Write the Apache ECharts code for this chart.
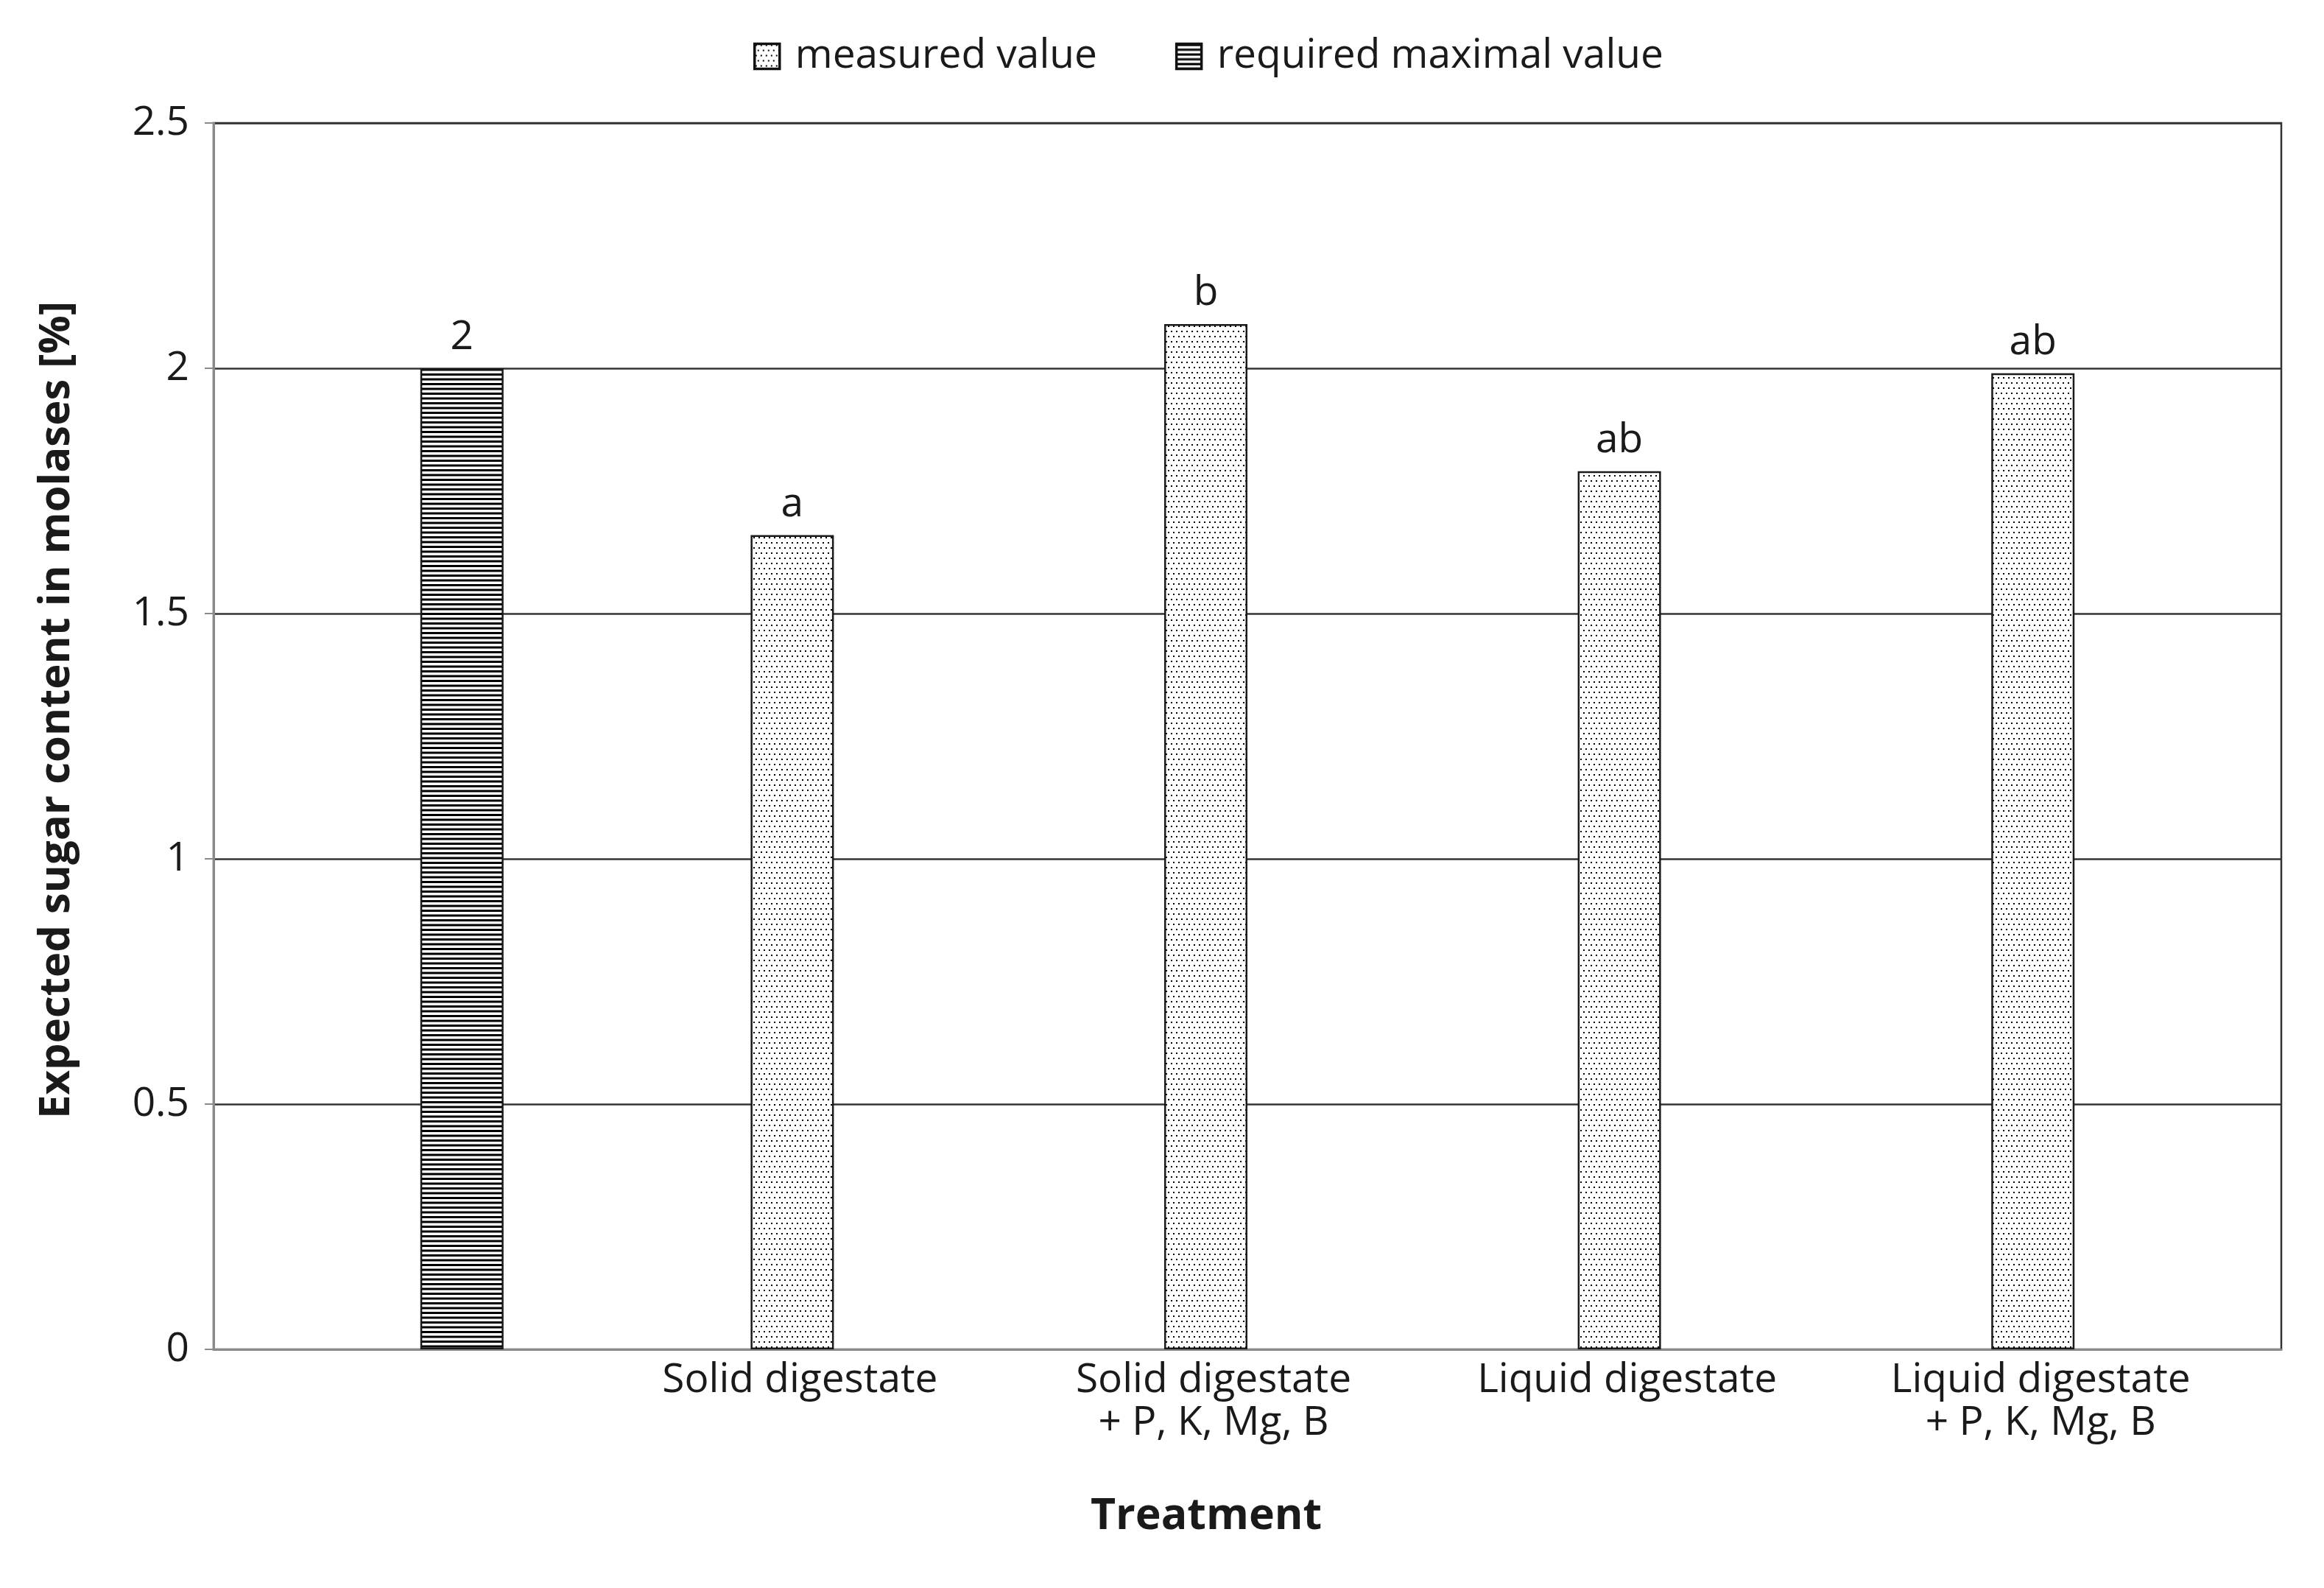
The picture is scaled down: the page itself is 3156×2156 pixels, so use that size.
<!DOCTYPE html>
<html>
<head>
<meta charset="utf-8">
<script src="https://cdn.jsdelivr.net/npm/echarts@6/dist/echarts.min.js"></script>
<style>
html,body{margin:0;padding:0;background:#fff;}
#chart{width:3156px;height:2156px;}
</style>
</head>
<body>
<div id="chart"></div>
<script>
const categories = ['', 'Solid digestate', 'Solid digestate\n+ P, K, Mg, B', 'Liquid digestate', 'Liquid digestate\n+ P, K, Mg, B'];
const measuredValues = [null, 1.66, 2.09, 1.79, 1.99];
const requiredValues = [2, null, null, null, null];
const measuredLetters = ['', 'a', 'b', 'ab', 'ab'];
const seriesNames = ['measured value', 'required maximal value'];
const yAxisTitle = 'Expected sugar content in molases [%]';
const xAxisTitle = 'Treatment';

function dotPattern() {
  const c = document.createElement('canvas');
  c.width = 14; c.height = 14;
  const g = c.getContext('2d');
  g.fillStyle = '#ffffff'; g.fillRect(0, 0, 14, 14);
  g.fillStyle = '#000000';
  [[1,1],[8,1],[4,8],[11,8]].forEach(p => g.fillRect(p[0], p[1], 2, 2));
  return c;
}
function stripePattern() {
  const c = document.createElement('canvas');
  c.width = 8; c.height = 13;
  const g = c.getContext('2d');
  g.fillStyle = '#ffffff'; g.fillRect(0, 0, 8, 13);
  g.fillStyle = '#000000';
  g.fillRect(0, 0, 8, 3);
  g.fillRect(0, 6.5, 8, 3);
  return c;
}

const font = '"Open Sans", "Noto Sans", sans-serif';
const chart = echarts.init(document.getElementById('chart'), null, {renderer: 'canvas'});
chart.setOption({
  backgroundColor: '#ffffff',
  animation: false,
  textStyle: {fontFamily: font, color: '#1a1a1a'},
  legend: {
    top: 44, left: 1018,
    icon: 'rect',
    itemWidth: 34, itemHeight: 34, itemGap: 106,
    itemStyle: {borderColor: '#111111', borderWidth: 3.5},
    textStyle: {fontSize: 55, fontFamily: font, color: '#1a1a1a', padding: [0, 0, 0, 16]},
    data: seriesNames
  },
  grid: {
    left: 290, top: 167, right: 58, bottom: 324,
    show: true, borderColor: '#333333', borderWidth: 2.5, backgroundColor: 'transparent'
  },
  xAxis: {
    type: 'category',
    data: categories,
    axisLine: {lineStyle: {color: '#8a8a8a', width: 3}},
    axisTick: {show: false},
    axisLabel: {
      interval: 0, margin: 13, fontSize: 55, lineHeight: 58, color: '#1a1a1a',
      fontFamily: font, padding: [0, 92, 0, 0]
    }
  },
  yAxis: {
    type: 'value',
    min: 0, max: 2.5, interval: 0.5,
    axisLine: {show: true, lineStyle: {color: '#8a8a8a', width: 3}},
    axisTick: {show: true, length: 12, lineStyle: {color: '#8a8a8a', width: 2}},
    axisLabel: {margin: 33, fontSize: 55, color: '#1a1a1a', fontFamily: font},
    splitLine: {lineStyle: {color: '#333333', width: 2.5}}
  },
  graphic: [
    {type: 'text', x: 77, y: 964, rotation: Math.PI / 2,
     style: {text: yAxisTitle, textAlign: 'center', textVerticalAlign: 'middle',
             font: 'bold 58px ' + font, fill: '#1a1a1a'}},
    {type: 'text', x: 1638, y: 2059,
     style: {text: xAxisTitle, textAlign: 'center', textVerticalAlign: 'middle',
             font: 'bold 59px ' + font, fill: '#1a1a1a'}}
  ],
  series: [
    {
      name: seriesNames[0], type: 'bar', data: measuredValues,
      barWidth: 113, barGap: '0%',
      itemStyle: {color: {image: dotPattern(), repeat: 'repeat'}, borderColor: '#1a1a1a', borderWidth: 2.5},
      label: {show: true, position: 'top', distance: 14, fontSize: 55, color: '#1a1a1a', fontFamily: font,
              formatter: p => measuredLetters[p.dataIndex]}
    },
    {
      name: seriesNames[1], type: 'bar', data: requiredValues,
      barWidth: 113, barGap: '0%',
      itemStyle: {color: {image: stripePattern(), repeat: 'repeat'}, borderColor: '#1a1a1a', borderWidth: 2.5},
      label: {show: true, position: 'top', distance: 14, fontSize: 55, color: '#1a1a1a', fontFamily: font}
    }
  ]
});
</script>
</body>
</html>
